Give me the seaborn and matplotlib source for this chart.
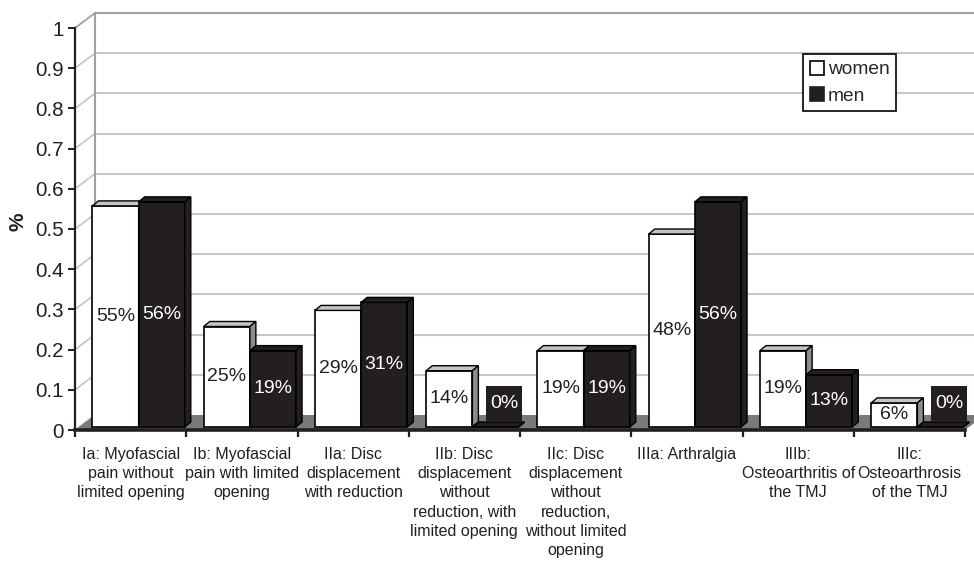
import numpy as np
import pandas as pd
import matplotlib
matplotlib.use("Agg")
import matplotlib.pyplot as plt
import seaborn as sns
from matplotlib.patches import Polygon, Patch, Rectangle
from matplotlib.ticker import FixedLocator, FuncFormatter

# ---------------- data ----------------
categories = [
    "Ia: Myofascial\npain without\nlimited opening",
    "Ib: Myofascial\npain with limited\nopening",
    "IIa: Disc\ndisplacement\nwith reduction",
    "IIb: Disc\ndisplacement\nwithout\nreduction, with\nlimited opening",
    "IIc: Disc\ndisplacement\nwithout\nreduction,\nwithout limited\nopening",
    "IIIa: Arthralgia",
    "IIIb:\nOsteoarthritis of\nthe TMJ",
    "IIIc:\nOsteoarthrosis\nof the TMJ",
]
women = [0.55, 0.25, 0.29, 0.14, 0.19, 0.48, 0.19, 0.06]
men = [0.56, 0.19, 0.31, 0.00, 0.19, 0.56, 0.13, 0.00]
series_names = ["women", "men"]
y_ticks = [0, 0.1, 0.2, 0.3, 0.4, 0.5, 0.6, 0.7, 0.8, 0.9, 1.0]
y_label = "%"

# ---------------- style ----------------
DARK = "#231f20"
WALL_GRID = "#c8c8c8"
WALL_EDGE = "#a0a0a0"
FLOOR = "#7a7a7a"
TOP_GRAY = "#c4c4c4"
SIDE_GRAY = "#8c8c8c"

sns.set_style("white")
plt.rcParams["font.family"] = ["Liberation Sans", "DejaVu Sans"]

W, H = 974, 561
fig = plt.figure(figsize=(W / 100, H / 100), dpi=100)
L, R, B, T = 75, 965, 430, 28
ax = fig.add_axes([L / W, 1 - B / H, (R - L) / W, (B - T) / H])

df = pd.DataFrame({
    "category": categories * 2,
    "value": women + men,
    "sex": [series_names[0]] * len(women) + [series_names[1]] * len(men),
})

sns.barplot(data=df, x="category", y="value", hue="sex", hue_order=series_names,
            palette={"women": "white", "men": DARK}, saturation=1, width=0.83,
            edgecolor="black", linewidth=1.2, errorbar=None, legend=False, ax=ax)

n = len(categories)
ax.set_xlim(-0.5, n - 0.5)
ax.set_ylim(0, 1)
ppx = (R - L) / n      # pixels per category unit
ppy = (B - T) / 1.0    # pixels per value unit
px = lambda d: d / ppx
py = lambda d: d / ppy

# 3D walls / floor
WD_X, WD_Y = 20, 15
x_left = -0.5
x_right = n - 0.5
floor = Polygon([(x_left, 0), (x_right, 0), (x_right + px(WD_X), py(WD_Y)),
                 (x_left + px(WD_X), py(WD_Y))], closed=True, fc=FLOOR, ec="none",
                zorder=1, clip_on=False)
ax.add_patch(floor)
for v in y_ticks[1:-1]:
    ax.plot([x_left + px(WD_X), x_right + px(WD_X) + 1], [v + py(WD_Y)] * 2,
            color=WALL_GRID, lw=1.5, zorder=0.5, clip_on=False)
for v in y_ticks:
    ax.plot([x_left, x_left + px(WD_X)], [v, v + py(WD_Y)],
            color=WALL_GRID if v < 1 else WALL_EDGE, lw=1.3, zorder=0.5, clip_on=False)
ax.plot([x_left + px(WD_X)] * 2, [py(WD_Y), 1 + py(WD_Y)], color=WALL_EDGE, lw=1.5,
        zorder=0.6, clip_on=False)
ax.plot([x_left + px(WD_X), x_right + px(WD_X) + 1], [1 + py(WD_Y)] * 2,
        color=WALL_EDGE, lw=1.5, zorder=0.6, clip_on=False)

# bars: shift to mid-depth and add top/side faces
SX, SY = 8, 3
BD_X, BD_Y = 6, 5
for si, (cont, name) in enumerate(zip(ax.containers, series_names)):
    z = 3 + si
    for bar in cont:
        bar.set_x(bar.get_x() + px(SX))
        bar.set_y(bar.get_y() + py(SY))
        bar.set_clip_on(False)
        bar.set_zorder(z)
        x0 = bar.get_x()
        x1 = x0 + bar.get_width()
        y0 = bar.get_y()
        y1 = y0 + bar.get_height()
        dx, dy = px(BD_X), py(BD_Y)
        topc = TOP_GRAY if name == "women" else DARK
        sidec = SIDE_GRAY if name == "women" else DARK
        ax.add_patch(Polygon([(x0, y1), (x1, y1), (x1 + dx, y1 + dy), (x0 + dx, y1 + dy)],
                             closed=True, fc=topc, ec="black", lw=1.0, zorder=z,
                             clip_on=False))
        ax.add_patch(Polygon([(x1, y0), (x1 + dx, y0 + dy), (x1 + dx, y1 + dy), (x1, y1)],
                             closed=True, fc=sidec, ec="black", lw=1.0, zorder=z,
                             clip_on=False))

# data labels
LBL_FS = 14
for si, (cont, name, vals) in enumerate(zip(ax.containers, series_names, [women, men])):
    for bar, v in zip(cont, vals):
        xc = bar.get_x() + bar.get_width() / 2
        txt = f"{round(v * 100)}%"
        if v > 0:
            yc = bar.get_y() + bar.get_height() / 2
        else:
            # label box for an empty bar sits on the flat bar
            xc += px(9)
            box_bottom = bar.get_y() + py(BD_Y)
            box_h = py(36)
            ax.add_patch(Rectangle((xc - px(18), box_bottom), px(36), box_h,
                                   fc=DARK if name == "men" else "white", ec="none",
                                   zorder=9, clip_on=False))
            yc = box_bottom + box_h / 2
        ax.text(xc, yc, txt, ha="center", va="center", fontsize=LBL_FS,
                color=DARK if name == "women" else "white", zorder=10)

# axes styling
for s in ["top", "right"]:
    ax.spines[s].set_visible(False)
ax.spines["left"].set_color(DARK)
ax.spines["left"].set_linewidth(1.6)
ax.spines["bottom"].set_color(DARK)
ax.spines["bottom"].set_linewidth(2.6)
ax.spines["bottom"].set_zorder(6)
ax.spines["left"].set_zorder(6)

ax.set_yticks(y_ticks)
ax.yaxis.set_major_formatter(FuncFormatter(lambda v, p: f"{v:g}"))
ax.tick_params(axis="y", which="major", direction="out", length=5, width=1.4,
               color=DARK, labelsize=14.8, labelcolor=DARK, pad=3, left=True)
ax.set_xticks(range(n))
ax.set_xticklabels(categories, fontsize=11.5, linespacing=1.36, color=DARK, va="top")
ax.xaxis.set_minor_locator(FixedLocator(np.arange(-0.5, n, 1.0)))
ax.tick_params(axis="x", which="major", length=0, pad=12)
ax.tick_params(axis="x", which="minor", direction="out", length=5, width=1.6,
               color=DARK, bottom=True)
ax.set_xlabel("")
ax.set_ylabel(y_label, fontsize=15, fontweight="bold", color=DARK)
ax.yaxis.set_label_coords((28 - L) / (R - L), (B - 222) / (B - T))
ax.grid(False)
ax.set_facecolor("none")

# legend
handles = [Patch(fc="white", ec="black", lw=1.2, label="women"),
           Patch(fc=DARK, ec=DARK, lw=1.2, label="men")]
leg = ax.legend(handles=handles, loc="upper left", bbox_to_anchor=(803 / W, 1 - 54 / H),
                bbox_transform=fig.transFigure, frameon=True, fancybox=False,
                edgecolor="black", framealpha=1, fontsize=13.8, handlelength=0.75,
                handleheight=0.75, handletextpad=0.2, labelspacing=0.45,
                borderpad=0.35, borderaxespad=0)
leg.get_frame().set_linewidth(1.2)
leg.set_zorder(12)

fig.savefig("out.png", dpi=100)
